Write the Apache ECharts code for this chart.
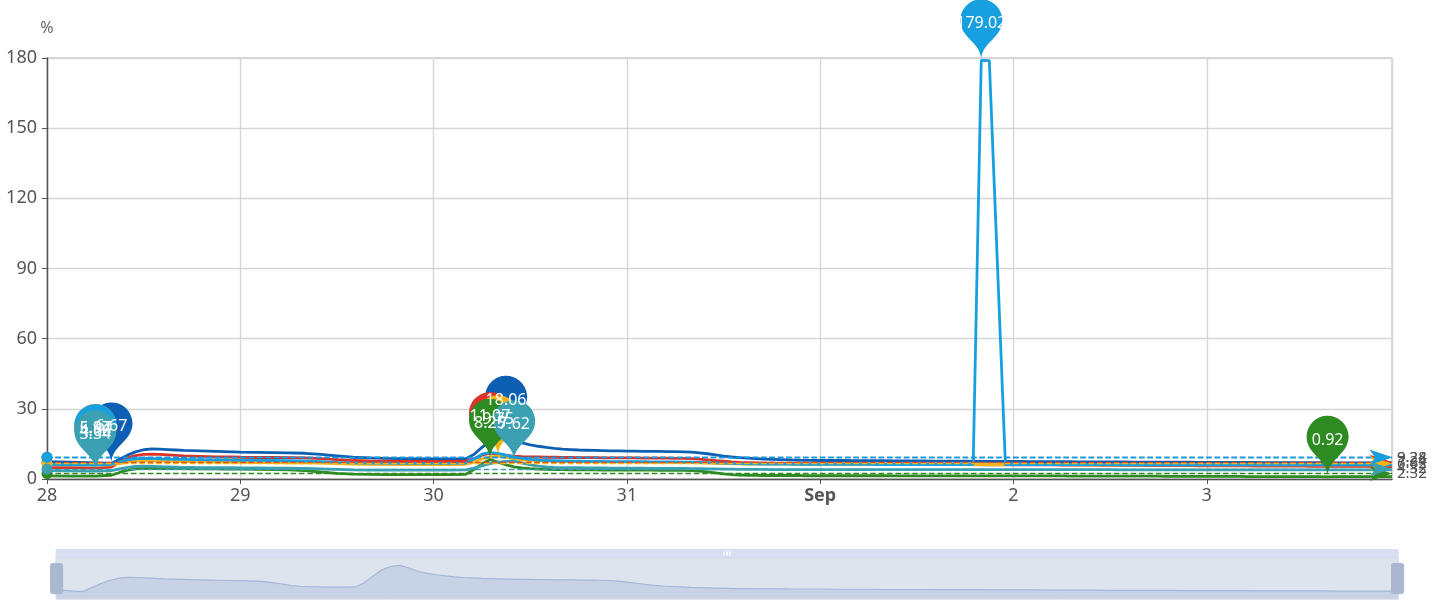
<!DOCTYPE html>
<html><head><meta charset="utf-8">
<script src="https://cdn.jsdelivr.net/npm/echarts@6/dist/echarts.min.js"></script>
<style>html,body{margin:0;padding:0;background:#fff}#c{width:1454px;height:604px}</style>
</head><body><div id="c"></div>
<script>
// hour offsets from 28 Aug 00:00
const hours = [0,3,6,8,9,10,11,12,13,14,15,16,17,18,19,20,21,22,23,24,26,28,30,32,34,36,38,40,42,44,46,48,50,52,
53,54,55,56,57,58,59,60,61,62,63,64,65,66,67,68,69,70,71,72,
73,74,75,76,77,78,79,80,81,82,83,84,85,86,87,88,89,90,91,92,93,94,95,96,
97,98,99,100,101,102,103,104,105,106,107,108,109,110,111,112,113,114,115,116,117,118,119,120,
121,122,123,124,125,126,127,128,129,130,131,132,133,134,135,136,137,138,139,140,141,142,143,144,
145,146,147,148,149,150,151,152,153,154,155,156,157,158,159,160,161,162,163,164,165,166,167];

const darkBlue = [7.4,7.2,6.9,6.67,8.4,10.2,11.6,12.5,12.9,12.8,12.6,12.4,12.2,12.1,12.0,11.9,11.8,11.7,11.6,11.5,11.4,11.3,11.2,11.0,10.5,9.9,9.3,9.0,8.8,8.7,8.6,8.6,8.6,8.7,
10.5,13.5,16.2,17.6,18.06,16.8,15.4,14.6,14.0,13.5,13.1,12.8,12.6,12.4,12.3,12.2,12.1,12.0,12.0,11.9,
11.9,11.8,11.8,11.8,11.7,11.7,11.6,11.5,11.2,10.8,10.3,9.8,9.4,9.1,8.9,8.7,8.5,8.4,8.3,8.2,8.1,8.0,8.0,7.9,
7.9,7.9,7.9,7.8,7.8,7.8,7.8,7.8,7.7,7.7,7.7,7.7,7.7,7.6,7.6,7.6,7.6,7.6,7.6,7.5,7.5,7.5,7.5,7.5,
7.5,7.4,7.4,7.4,7.4,7.4,7.4,7.3,7.3,7.3,7.3,7.3,7.3,7.3,7.2,7.2,7.2,7.2,7.2,7.2,7.2,7.2,7.1,7.1,
7.1,7.1,7.1,7.1,7.1,7.1,7.0,7.0,7.0,7.0,7.0,7.0,7.0,7.0,7.0,6.9,6.9,6.9,6.9,6.9,6.9,6.9,6.9];

const red = [4.9,4.8,4.66,5.1,7.2,9.0,10.0,10.5,10.6,10.5,10.3,10.1,9.9,9.8,9.7,9.6,9.5,9.4,9.4,9.3,9.2,9.2,9.1,9.0,8.7,8.3,7.9,7.7,7.6,7.5,7.5,7.5,7.5,7.6,
8.6,10.2,11.07,10.6,10.1,9.8,9.6,9.5,9.4,9.3,9.3,9.2,9.2,9.1,9.1,9.1,9.0,9.0,9.0,9.0,
9.0,8.9,8.9,8.9,8.9,8.8,8.8,8.7,8.5,8.2,7.9,7.6,7.3,7.1,7.0,6.9,6.8,6.8,6.7,6.7,6.7,6.6,6.6,6.6,
6.6,6.5,6.5,6.5,6.5,6.4,6.4,6.4,6.4,6.3,6.3,6.3,6.3,6.3,6.2,6.2,6.2,6.2,6.2,6.1,6.1,6.1,6.1,6.1,
6.0,6.0,6.0,6.0,6.0,5.9,5.9,5.9,5.9,5.9,5.8,5.8,5.8,5.8,5.8,5.8,5.7,5.7,5.7,5.7,5.7,5.7,5.6,5.6,
5.6,5.6,5.6,5.6,5.6,5.5,5.5,5.5,5.5,5.5,5.5,5.5,5.4,5.4,5.4,5.4,5.4,5.4,5.4,5.4,5.3,5.3,5.3];

const yellow = [6.2,6.1,5.97,6.1,6.6,7.2,7.6,7.8,7.8,7.7,7.6,7.5,7.4,7.4,7.3,7.3,7.2,7.2,7.1,7.1,7.0,7.0,6.9,6.9,6.8,6.6,6.4,6.3,6.3,6.2,6.2,6.2,6.2,6.3,
7.2,8.6,9.4,9.75,9.2,8.6,8.2,7.9,7.7,7.6,7.5,7.4,7.4,7.3,7.3,7.3,7.2,7.2,7.2,7.2,
7.2,7.1,7.1,7.1,7.1,7.0,7.0,7.0,6.9,6.8,6.7,6.6,6.5,6.5,6.4,6.4,6.4,6.4,6.4,6.4,6.3,6.3,6.3,6.3,
6.3,6.3,6.3,6.3,6.3,6.3,6.3,6.3,6.2,6.2,6.2,6.2,6.2,6.2,6.2,6.2,6.2,6.2,6.2,6.2,6.2,6.2,6.2,6.2,
6.2,6.2,6.2,6.2,6.2,6.2,6.2,6.2,6.1,6.1,6.1,6.1,6.1,6.1,6.1,6.1,6.1,6.1,6.1,6.1,6.1,6.1,6.1,6.1,
6.1,6.1,6.1,6.1,6.1,6.1,6.1,6.1,6.1,6.1,6.0,6.0,6.0,6.0,6.0,6.0,6.0,6.0,6.0,6.0,6.0,6.0,6.0];

const green = [1.3,1.25,1.2,1.6,2.8,3.8,4.3,4.5,4.5,4.5,4.4,4.4,4.4,4.3,4.3,4.3,4.3,4.2,4.2,4.2,4.1,4.0,3.9,3.6,3.0,2.4,2.1,2.0,1.9,1.9,1.9,1.9,1.9,2.0,
4.0,6.5,8.25,7.2,6.0,5.2,4.7,4.4,4.2,4.1,4.0,4.0,3.9,3.9,3.9,3.9,3.8,3.8,3.8,3.8,
3.8,3.8,3.8,3.7,3.7,3.7,3.7,3.6,3.4,3.0,2.6,2.2,1.9,1.7,1.6,1.6,1.5,1.5,1.5,1.5,1.5,1.4,1.4,1.4,
1.4,1.4,1.4,1.4,1.4,1.4,1.4,1.4,1.3,1.3,1.3,1.3,1.3,1.3,1.3,1.3,1.3,1.3,1.3,1.3,1.3,1.3,1.3,1.3,
1.3,1.3,1.3,1.3,1.3,1.3,1.2,1.2,1.2,1.2,1.2,1.2,1.2,1.2,1.2,1.2,1.2,1.2,1.1,1.1,1.1,1.1,1.1,1.1,
1.1,1.1,1.1,1.1,1.0,1.0,1.0,1.0,1.0,1.0,1.0,1.0,1.0,1.0,0.92,1.0,1.0,1.0,1.0,1.0,1.0,1.0,1.0];

const lightBlue = [6.3,6.1,5.94,6.3,7.3,8.2,8.6,8.8,8.7,8.6,8.5,8.4,8.4,8.3,8.3,8.2,8.2,8.1,8.1,8.0,8.0,7.9,7.8,7.7,7.4,7.1,6.9,6.8,6.8,6.7,6.7,6.7,6.7,6.8,
8.5,10.6,11.4,11.0,10.2,9.4,8.8,8.4,8.1,7.9,7.8,7.7,7.6,7.6,7.5,7.5,7.5,7.4,7.4,7.4,
7.4,7.4,7.3,7.3,7.3,7.3,7.2,7.2,7.1,7.0,6.9,6.8,6.7,6.6,6.5,6.5,6.4,6.4,6.4,6.4,6.3,6.3,6.3,6.3,
6.3,6.3,6.3,6.3,6.3,6.3,6.2,6.2,6.2,6.2,6.2,6.2,6.2,6.2,6.2,6.2,6.2,6.2,6.2,179.02,178.9,null,6.2,6.2,
6.2,6.2,6.2,6.2,6.2,6.2,6.2,6.2,6.2,6.2,6.2,6.2,6.1,6.1,6.1,6.1,6.1,6.1,6.1,6.1,6.1,6.1,6.1,6.1,
6.1,6.1,6.1,6.1,6.1,6.1,6.1,6.1,6.1,6.1,6.1,6.1,6.1,6.1,6.1,6.1,6.1,6.1,6.1,6.1,6.1,6.1,6.1];

const teal = [3.6,3.5,3.34,3.6,4.3,5.0,5.4,5.5,5.4,5.3,5.2,5.1,5.0,5.0,4.9,4.9,4.8,4.8,4.8,4.7,4.7,4.6,4.6,4.5,4.3,4.1,3.9,3.8,3.8,3.8,3.8,3.8,3.8,3.9,
4.6,5.6,6.6,7.2,7.5,7.62,6.8,6.0,5.5,5.2,5.0,4.9,4.8,4.8,4.7,4.7,4.7,4.6,4.6,4.6,
4.6,4.6,4.5,4.5,4.5,4.5,4.5,4.4,4.4,4.3,4.3,4.2,4.2,4.1,4.1,4.1,4.1,4.0,4.0,4.0,4.0,4.0,4.0,4.0,
4.0,4.0,4.0,4.0,4.0,4.0,4.0,4.0,4.0,4.0,4.0,4.0,4.0,4.0,4.0,4.0,4.0,4.0,4.0,4.0,4.0,4.0,4.0,4.0,
4.0,4.0,4.0,4.0,4.0,4.0,4.0,4.0,4.0,4.0,4.0,4.0,3.9,3.9,3.9,3.9,3.9,3.9,3.9,3.9,3.9,3.9,3.9,3.9,
3.9,3.9,3.9,3.9,3.9,3.9,3.9,3.9,3.9,3.9,3.9,3.9,3.9,3.9,3.9,3.9,3.9,3.9,3.9,3.9,3.9,3.9,3.9];

const seriesNames = ['Series 1','Series 2','Series 3','Series 4','Series 5','Series 6'];
const seriesValues = [darkBlue, red, yellow, green, lightBlue, teal];
const seriesColors = ['#0d5fb3','#d9332a','#f2b416','#2e8b22','#17a0e0','#3aa0b2'];

const base = new Date(2024, 7, 28, 0, 0, 0).getTime();
function pairs(vals){ return hours.map((h,i)=>[base + h*3600000, vals[i]]); }

const FONT = 'Noto Sans';
const series = seriesValues.map((vals, i) => ({
  name: seriesNames[i],
  type: 'line',
  data: pairs(vals),
  showSymbol: false,
  connectNulls: true,
  lineStyle: { width: 2.8, color: seriesColors[i] },
  itemStyle: { color: seriesColors[i] },
  markPoint: {
    symbolSize: 70,
    label: { fontSize: 16, color: '#fff', fontFamily: FONT },
    data: [{ type: 'max' }, { type: 'min' }]
  },
  markLine: {
    symbolSize: [11, 22],
    lineStyle: { width: 1.4, type: 'dashed' },
    label: { fontSize: 15, color: '#555', fontFamily: FONT },
    data: [{ type: 'average' }]
  }
}));
// overview series for the zoom slider's data shadow (sample-indexed, not drawn)
series.push({
  name: 'overview', type: 'line', xAxisIndex: 1, data: darkBlue,
  showSymbol: false, silent: true, lineStyle: { opacity: 0 }, itemStyle: { opacity: 0 },
  tooltip: { show: false }
});

const chart = echarts.init(document.getElementById('c'));
chart.setOption({
  animation: false,
  textStyle: { fontFamily: FONT },
  color: seriesColors,
  grid: { left: 47, right: 62, top: 58, bottom: 125, show: true, borderColor: '#ccc', borderWidth: 1.4 },
  xAxis: [{
    type: 'time', min: 'dataMin', max: 'dataMax', minInterval: 86400000,
    axisLine: { lineStyle: { color: '#555', width: 1.4 } },
    axisTick: { show: true, lineStyle: { color: '#555' } },
    axisLabel: { fontSize: 18, color: '#555', fontFamily: FONT },
    splitLine: { show: true, lineStyle: { color: '#d6d6d6', width: 1.4 } }
  }, {
    type: 'category', show: false, boundaryGap: false, data: hours
  }],
  yAxis: {
    type: 'value', name: '%', min: 0, max: 180, interval: 30, nameGap: 22,
    nameTextStyle: { fontSize: 16, color: '#666', fontFamily: FONT },
    axisLine: { show: true, lineStyle: { color: '#555', width: 1.4 } },
    axisTick: { show: true, lineStyle: { color: '#555' } },
    axisLabel: { fontSize: 18, color: '#555', margin: 10, fontFamily: FONT },
    splitLine: { lineStyle: { color: '#d6d6d6', width: 1.4 } }
  },
  dataZoom: [{
    type: 'slider', xAxisIndex: 1, left: 52, right: 59, bottom: 13, height: 42, start: 0, end: 100,
    showDetail: false, brushSelect: true,
    borderColor: '#d3dae6', backgroundColor: 'rgba(0,0,0,0)',
    fillerColor: 'rgba(160,178,206,0.35)',
    dataBackground: { lineStyle: { color: '#a9b9dd', width: 1.2 }, areaStyle: { color: '#b4c3e2', opacity: 0.45 } },
    selectedDataBackground: { lineStyle: { color: '#a9b9dd', width: 1.2 }, areaStyle: { color: '#b4c3e2', opacity: 0.45 } },
    handleIcon: 'path://M2,0h8a2,2,0,0,1,2,2v26a2,2,0,0,1,-2,2h-8a2,2,0,0,1,-2,-2v-26a2,2,0,0,1,2,-2Z',
    handleSize: '72%',
    handleStyle: { color: '#a9b7d0', borderColor: '#a9b7d0' },
    moveHandleSize: 9,
    moveHandleStyle: { color: '#d3dcee', opacity: 0.9 }
  }],
  series: series
});
</script>
</body></html>
